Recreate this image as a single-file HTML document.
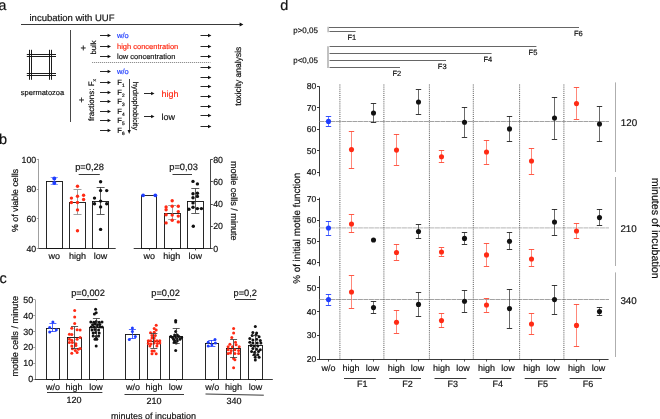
<!DOCTYPE html>
<html><head><meta charset="utf-8"><style>
html,body{margin:0;padding:0;background:#fff;}
svg{display:block;will-change:transform;}
text{font-family:"Liberation Sans", sans-serif;text-rendering:geometricPrecision;stroke:currentColor;stroke-width:0.18px;}
</style></head><body>
<svg width="660" height="419" viewBox="0 0 660 419" font-family='"Liberation Sans", sans-serif'>
<rect width="660" height="419" fill="#fff"/>
<text x="-1.4" y="9.9" font-size="14.2" text-anchor="start" fill="#111" color="#111" stroke="#111" stroke-width="0.35">a</text>
<text x="29.5" y="20.7" font-size="9.5" text-anchor="start" fill="#111" color="#111" >incubation with UUF</text>
<line x1="21" y1="24.5" x2="241" y2="24.5" stroke="#222" stroke-width="0.9" />
<path d="M239.6,22.6 L243.4,24.5 L239.6,26.4 Z" fill="#111"/>
<line x1="29.5" y1="49.8" x2="29.5" y2="79.8" stroke="#111" stroke-width="0.95" />
<line x1="31.5" y1="49.8" x2="31.5" y2="79.8" stroke="#111" stroke-width="0.95" />
<line x1="49.5" y1="49.8" x2="49.5" y2="79.8" stroke="#111" stroke-width="0.95" />
<line x1="51.5" y1="49.8" x2="51.5" y2="79.8" stroke="#111" stroke-width="0.95" />
<line x1="26.8" y1="54.5" x2="56" y2="54.5" stroke="#111" stroke-width="0.95" />
<line x1="26.8" y1="56.5" x2="56" y2="56.5" stroke="#111" stroke-width="0.95" />
<line x1="26.8" y1="73.5" x2="56" y2="73.5" stroke="#111" stroke-width="0.95" />
<line x1="26.8" y1="75.5" x2="56" y2="75.5" stroke="#111" stroke-width="0.95" />
<text x="42.5" y="94.5" font-size="7.5" text-anchor="middle" fill="#111" color="#111" >spermatozoa</text>
<line x1="70.5" y1="30" x2="70.5" y2="122" stroke="#333" stroke-width="0.9" />
<text x="83.2" y="50.8" font-size="9.5" text-anchor="middle" fill="#111" color="#111" >+</text>
<text x="81.6" y="102.8" font-size="9.5" text-anchor="middle" fill="#111" color="#111" >+</text>
<text transform="translate(96.2,47.45) rotate(-90)" font-size="7.6" text-anchor="middle" fill="#111">bulk</text>
<text transform="translate(94.2,100) rotate(-90)" font-size="8" text-anchor="middle" fill="#111">fractions: F<tspan font-size="5" dy="1.5">x</tspan></text>
<line x1="100" y1="35.5" x2="108.5" y2="35.5" stroke="#111" stroke-width="0.9" />
<path d="M107.6,33.8 L111,35.5 L107.6,37.2 Z" fill="#111"/>
<line x1="100" y1="46.5" x2="108.5" y2="46.5" stroke="#111" stroke-width="0.9" />
<path d="M107.6,44.8 L111,46.5 L107.6,48.2 Z" fill="#111"/>
<line x1="100" y1="56.5" x2="108.5" y2="56.5" stroke="#111" stroke-width="0.9" />
<path d="M107.6,54.8 L111,56.5 L107.6,58.2 Z" fill="#111"/>
<text x="117" y="38.3" font-size="7.5" text-anchor="start" fill="#1f3dff" color="#1f3dff" >w/o</text>
<text x="117" y="48.9" font-size="7.5" text-anchor="start" fill="#ff2a14" color="#ff2a14" >high concentration</text>
<text x="117" y="59.3" font-size="7.5" text-anchor="start" fill="#111" color="#111" >low concentration</text>
<line x1="92" y1="62.5" x2="210.5" y2="62.5" stroke="#444" stroke-width="0.6" stroke-dasharray="1.2,0.8"/>
<line x1="100" y1="71.5" x2="108.5" y2="71.5" stroke="#111" stroke-width="0.9" />
<path d="M107.6,69.8 L111,71.5 L107.6,73.2 Z" fill="#111"/>
<line x1="100" y1="82.5" x2="108.5" y2="82.5" stroke="#111" stroke-width="0.9" />
<path d="M107.6,80.8 L111,82.5 L107.6,84.2 Z" fill="#111"/>
<line x1="100" y1="92.5" x2="108.5" y2="92.5" stroke="#111" stroke-width="0.9" />
<path d="M107.6,90.8 L111,92.5 L107.6,94.2 Z" fill="#111"/>
<line x1="100" y1="101.5" x2="108.5" y2="101.5" stroke="#111" stroke-width="0.9" />
<path d="M107.6,99.8 L111,101.5 L107.6,103.2 Z" fill="#111"/>
<line x1="100" y1="111.5" x2="108.5" y2="111.5" stroke="#111" stroke-width="0.9" />
<path d="M107.6,109.8 L111,111.5 L107.6,113.2 Z" fill="#111"/>
<line x1="100" y1="120.5" x2="108.5" y2="120.5" stroke="#111" stroke-width="0.9" />
<path d="M107.6,118.8 L111,120.5 L107.6,122.2 Z" fill="#111"/>
<line x1="100" y1="130.5" x2="108.5" y2="130.5" stroke="#111" stroke-width="0.9" />
<path d="M107.6,128.8 L111,130.5 L107.6,132.2 Z" fill="#111"/>
<text x="117" y="73.7" font-size="7.5" text-anchor="start" fill="#1f3dff" color="#1f3dff" >w/o</text>
<text x="117.3" y="85.19999999999999" font-size="7.6" fill="#111">F<tspan font-size="4.8" dy="2">1</tspan></text>
<text x="117.3" y="94.6" font-size="7.6" fill="#111">F<tspan font-size="4.8" dy="2">2</tspan></text>
<text x="117.3" y="104.19999999999999" font-size="7.6" fill="#111">F<tspan font-size="4.8" dy="2">3</tspan></text>
<text x="117.3" y="113.6" font-size="7.6" fill="#111">F<tspan font-size="4.8" dy="2">4</tspan></text>
<text x="117.3" y="123.19999999999999" font-size="7.6" fill="#111">F<tspan font-size="4.8" dy="2">5</tspan></text>
<text x="117.3" y="132.9" font-size="7.6" fill="#111">F<tspan font-size="4.8" dy="2">6</tspan></text>
<line x1="129.5" y1="79" x2="129.5" y2="131" stroke="#111" stroke-width="0.8" />
<path d="M127.6,130 L129.2,134 L130.8,130 Z" fill="#111"/>
<text transform="translate(133.2,106) rotate(90)" font-size="7.5" text-anchor="middle" fill="#111">hydrophobicity</text>
<line x1="144" y1="93.5" x2="152.0" y2="93.5" stroke="#111" stroke-width="0.9" />
<path d="M151.1,91.8 L154.5,93.5 L151.1,95.2 Z" fill="#111"/>
<line x1="144" y1="116.5" x2="152.0" y2="116.5" stroke="#111" stroke-width="0.9" />
<path d="M151.1,114.8 L154.5,116.5 L151.1,118.2 Z" fill="#111"/>
<text x="161.5" y="96.5" font-size="9" text-anchor="start" fill="#ff2a14" color="#ff2a14" >high</text>
<text x="161.5" y="119.5" font-size="9" text-anchor="start" fill="#111" color="#111" >low</text>
<line x1="200.5" y1="35.5" x2="208.9" y2="35.5" stroke="#111" stroke-width="0.9" />
<path d="M208.0,33.8 L211.4,35.5 L208.0,37.2 Z" fill="#111"/>
<line x1="200.5" y1="46.5" x2="208.9" y2="46.5" stroke="#111" stroke-width="0.9" />
<path d="M208.0,44.8 L211.4,46.5 L208.0,48.2 Z" fill="#111"/>
<line x1="200.5" y1="56.5" x2="208.9" y2="56.5" stroke="#111" stroke-width="0.9" />
<path d="M208.0,54.8 L211.4,56.5 L208.0,58.2 Z" fill="#111"/>
<line x1="200.5" y1="67.5" x2="208.9" y2="67.5" stroke="#111" stroke-width="0.9" />
<path d="M208.0,65.8 L211.4,67.5 L208.0,69.2 Z" fill="#111"/>
<line x1="200.5" y1="77.5" x2="208.9" y2="77.5" stroke="#111" stroke-width="0.9" />
<path d="M208.0,75.8 L211.4,77.5 L208.0,79.2 Z" fill="#111"/>
<line x1="200.5" y1="86.5" x2="208.9" y2="86.5" stroke="#111" stroke-width="0.9" />
<path d="M208.0,84.8 L211.4,86.5 L208.0,88.2 Z" fill="#111"/>
<line x1="200.5" y1="96.5" x2="208.9" y2="96.5" stroke="#111" stroke-width="0.9" />
<path d="M208.0,94.8 L211.4,96.5 L208.0,98.2 Z" fill="#111"/>
<line x1="200.5" y1="106.5" x2="208.9" y2="106.5" stroke="#111" stroke-width="0.9" />
<path d="M208.0,104.8 L211.4,106.5 L208.0,108.2 Z" fill="#111"/>
<line x1="200.5" y1="115.5" x2="208.9" y2="115.5" stroke="#111" stroke-width="0.9" />
<path d="M208.0,113.8 L211.4,115.5 L208.0,117.2 Z" fill="#111"/>
<line x1="200.5" y1="126.5" x2="208.9" y2="126.5" stroke="#111" stroke-width="0.9" />
<path d="M208.0,124.8 L211.4,126.5 L208.0,128.2 Z" fill="#111"/>
<text transform="translate(241.3,76.2) rotate(-90)" font-size="8.5" text-anchor="middle" fill="#111">toxicity analysis</text>
<text x="-0.9" y="143.5" font-size="14.5" text-anchor="start" fill="#111" color="#111" stroke="#111" stroke-width="0.35">b</text>
<line x1="38.5" y1="158.9" x2="38.5" y2="248.9" stroke="#888" stroke-width="0.8" />
<line x1="38.3" y1="248.5" x2="115.7" y2="248.5" stroke="#222" stroke-width="0.9" />
<line x1="36.8" y1="248.5" x2="38.7" y2="248.5" stroke="#888" stroke-width="0.8" />
<text x="36.2" y="251.5" font-size="8.8" text-anchor="end" fill="#111" color="#111" >40</text>
<line x1="36.8" y1="218.5" x2="38.7" y2="218.5" stroke="#888" stroke-width="0.8" />
<text x="36.2" y="221.83333333333334" font-size="8.8" text-anchor="end" fill="#111" color="#111" >60</text>
<line x1="36.8" y1="189.5" x2="38.7" y2="189.5" stroke="#888" stroke-width="0.8" />
<text x="36.2" y="192.16666666666666" font-size="8.8" text-anchor="end" fill="#111" color="#111" >80</text>
<line x1="36.8" y1="159.5" x2="38.7" y2="159.5" stroke="#888" stroke-width="0.8" />
<text x="36.2" y="162.5" font-size="8.8" text-anchor="end" fill="#111" color="#111" >100</text>
<text transform="translate(18.4,200.5) rotate(-90)" font-size="8.8" text-anchor="middle" fill="#111">% of viable cells</text>
<rect x="46.5" y="181.5" width="16.0" height="67.0" fill="none" stroke="#111" stroke-width="0.9"/>
<rect x="69.5" y="202.5" width="16.0" height="46.0" fill="none" stroke="#111" stroke-width="0.9"/>
<rect x="92.5" y="201.5" width="16.0" height="47.0" fill="none" stroke="#111" stroke-width="0.9"/>
<line x1="54.5" y1="177.6" x2="54.5" y2="184.2" stroke="#6a84ff" stroke-width="0.8" />
<line x1="50.699999999999996" y1="177.5" x2="57.9" y2="177.5" stroke="#6a84ff" stroke-width="0.8" />
<line x1="50.699999999999996" y1="184.5" x2="57.9" y2="184.5" stroke="#6a84ff" stroke-width="0.8" />
<circle cx="54.3" cy="178.6" r="2.0" fill="#1f3dff"/>
<circle cx="54.3" cy="183.1" r="2.0" fill="#1f3dff"/>
<line x1="77.5" y1="189.8" x2="77.5" y2="214.4" stroke="#888" stroke-width="0.8" />
<line x1="73.5" y1="189.5" x2="81.5" y2="189.5" stroke="#888" stroke-width="0.8" />
<line x1="73.5" y1="214.5" x2="81.5" y2="214.5" stroke="#888" stroke-width="0.8" />
<circle cx="77.5" cy="186.2" r="1.7" fill="#ff2a14"/>
<circle cx="71.4" cy="198.1" r="1.7" fill="#ff2a14"/>
<circle cx="77.5" cy="196.3" r="1.7" fill="#ff2a14"/>
<circle cx="83.6" cy="195.3" r="1.7" fill="#ff2a14"/>
<circle cx="83.6" cy="199.5" r="1.7" fill="#ff2a14"/>
<circle cx="71.4" cy="202.5" r="1.7" fill="#ff2a14"/>
<circle cx="77.5" cy="202.5" r="1.7" fill="#ff2a14"/>
<circle cx="77.5" cy="209.9" r="1.7" fill="#ff2a14"/>
<circle cx="77.5" cy="230.7" r="1.7" fill="#ff2a14"/>
<line x1="100.5" y1="187.2" x2="100.5" y2="214" stroke="#333" stroke-width="0.8" />
<line x1="96.6" y1="187.5" x2="104.6" y2="187.5" stroke="#333" stroke-width="0.8" />
<line x1="96.6" y1="214.5" x2="104.6" y2="214.5" stroke="#333" stroke-width="0.8" />
<circle cx="100.6" cy="181.7" r="1.7" fill="#111"/>
<circle cx="100.6" cy="190.6" r="1.7" fill="#111"/>
<circle cx="106.7" cy="190.6" r="1.7" fill="#111"/>
<circle cx="94.5" cy="198.1" r="1.7" fill="#111"/>
<circle cx="100.6" cy="201.1" r="1.7" fill="#111"/>
<circle cx="94.5" cy="203.8" r="1.7" fill="#111"/>
<circle cx="106.7" cy="203.8" r="1.7" fill="#111"/>
<circle cx="100.6" cy="206.9" r="1.7" fill="#111"/>
<circle cx="100.6" cy="229.4" r="1.7" fill="#111"/>
<text x="54.3" y="259.4" font-size="9" text-anchor="middle" fill="#111" color="#111" >wo</text>
<text x="77.5" y="259.4" font-size="9" text-anchor="middle" fill="#111" color="#111" >high</text>
<text x="100.6" y="259.4" font-size="9" text-anchor="middle" fill="#111" color="#111" >low</text>
<text x="89.5" y="170" font-size="9.3" text-anchor="middle" fill="#111" color="#111" >p=0,28</text>
<line x1="78.7" y1="174.5" x2="99.8" y2="174.5" stroke="#222" stroke-width="0.9" />
<line x1="210.5" y1="159.2" x2="210.5" y2="248.9" stroke="#333" stroke-width="0.9" />
<line x1="133.7" y1="248.5" x2="211.2" y2="248.5" stroke="#222" stroke-width="0.9" />
<line x1="210.8" y1="248.5" x2="212.8" y2="248.5" stroke="#333" stroke-width="0.9" />
<text x="213.2" y="251.5" font-size="8.8" text-anchor="start" fill="#111" color="#111" >0</text>
<line x1="210.8" y1="226.5" x2="212.8" y2="226.5" stroke="#333" stroke-width="0.9" />
<text x="213.2" y="229.29999999999998" font-size="8.8" text-anchor="start" fill="#111" color="#111" >20</text>
<line x1="210.8" y1="204.5" x2="212.8" y2="204.5" stroke="#333" stroke-width="0.9" />
<text x="213.2" y="207.1" font-size="8.8" text-anchor="start" fill="#111" color="#111" >40</text>
<line x1="210.8" y1="181.5" x2="212.8" y2="181.5" stroke="#333" stroke-width="0.9" />
<text x="213.2" y="184.9" font-size="8.8" text-anchor="start" fill="#111" color="#111" >60</text>
<line x1="210.8" y1="159.5" x2="212.8" y2="159.5" stroke="#333" stroke-width="0.9" />
<text x="213.2" y="162.7" font-size="8.8" text-anchor="start" fill="#111" color="#111" >80</text>
<text transform="translate(230.8,200.8) rotate(90)" font-size="9.05" text-anchor="middle" fill="#111">motile cells / minute</text>
<rect x="141.5" y="195.5" width="15.0" height="53.0" fill="none" stroke="#111" stroke-width="0.9"/>
<circle cx="143.1" cy="195.3" r="1.9" fill="#1f3dff"/>
<circle cx="155.3" cy="195.3" r="1.9" fill="#1f3dff"/>
<rect x="164.5" y="213.5" width="16.0" height="35.0" fill="none" stroke="#111" stroke-width="0.9"/>
<line x1="172.5" y1="205.5" x2="172.5" y2="219.8" stroke="#888" stroke-width="0.8" />
<line x1="168.2" y1="205.5" x2="176.2" y2="205.5" stroke="#888" stroke-width="0.8" />
<line x1="168.2" y1="219.5" x2="176.2" y2="219.5" stroke="#888" stroke-width="0.8" />
<circle cx="172.2" cy="200.7" r="1.7" fill="#ff2a14"/>
<circle cx="166.1" cy="207" r="1.7" fill="#ff2a14"/>
<circle cx="172.2" cy="206.2" r="1.7" fill="#ff2a14"/>
<circle cx="178.3" cy="206.2" r="1.7" fill="#ff2a14"/>
<circle cx="166.1" cy="209.7" r="1.7" fill="#ff2a14"/>
<circle cx="178.3" cy="211.6" r="1.7" fill="#ff2a14"/>
<circle cx="166.1" cy="214.7" r="1.7" fill="#ff2a14"/>
<circle cx="172.2" cy="215.1" r="1.7" fill="#ff2a14"/>
<circle cx="178.3" cy="216.1" r="1.7" fill="#ff2a14"/>
<circle cx="172.2" cy="220.2" r="1.7" fill="#ff2a14"/>
<circle cx="166.1" cy="222.9" r="1.7" fill="#ff2a14"/>
<circle cx="178.3" cy="221.9" r="1.7" fill="#ff2a14"/>
<rect x="187.5" y="201.5" width="16.0" height="47.0" fill="none" stroke="#111" stroke-width="0.9"/>
<line x1="195.5" y1="188.5" x2="195.5" y2="213" stroke="#333" stroke-width="0.8" />
<line x1="191.3" y1="188.5" x2="199.3" y2="188.5" stroke="#333" stroke-width="0.8" />
<line x1="191.3" y1="213.5" x2="199.3" y2="213.5" stroke="#333" stroke-width="0.8" />
<circle cx="193" cy="181.4" r="1.7" fill="#111"/>
<circle cx="197.4" cy="183.9" r="1.7" fill="#111"/>
<circle cx="193" cy="193.7" r="1.7" fill="#111"/>
<circle cx="197.4" cy="193.3" r="1.7" fill="#111"/>
<circle cx="197.4" cy="196.4" r="1.7" fill="#111"/>
<circle cx="193" cy="197.7" r="1.7" fill="#111"/>
<circle cx="193" cy="202.9" r="1.7" fill="#111"/>
<circle cx="188.9" cy="209.3" r="1.7" fill="#111"/>
<circle cx="193" cy="207.3" r="1.7" fill="#111"/>
<circle cx="197.4" cy="208.6" r="1.7" fill="#111"/>
<circle cx="201.4" cy="208.6" r="1.7" fill="#111"/>
<circle cx="193.3" cy="226.3" r="1.7" fill="#111"/>
<line x1="149.5" y1="248.4" x2="149.5" y2="250.4" stroke="#222" stroke-width="0.8" />
<line x1="171.5" y1="248.4" x2="171.5" y2="250.4" stroke="#222" stroke-width="0.8" />
<line x1="195.5" y1="248.4" x2="195.5" y2="250.4" stroke="#222" stroke-width="0.8" />
<text x="149.2" y="259.4" font-size="9" text-anchor="middle" fill="#111" color="#111" >wo</text>
<text x="171.8" y="259.4" font-size="9" text-anchor="middle" fill="#111" color="#111" >high</text>
<text x="195.3" y="259.4" font-size="9" text-anchor="middle" fill="#111" color="#111" >low</text>
<text x="183.6" y="170" font-size="9.3" text-anchor="middle" fill="#111" color="#111" >p=0,03</text>
<line x1="172.5" y1="174.5" x2="192" y2="174.5" stroke="#222" stroke-width="0.9" />
<text x="-0.6" y="282.7" font-size="14.5" text-anchor="start" fill="#111" color="#111" stroke="#111" stroke-width="0.35">c</text>
<line x1="35.5" y1="299.5" x2="35.5" y2="379" stroke="#888" stroke-width="0.8" />
<line x1="34.6" y1="379.5" x2="272.8" y2="379.5" stroke="#222" stroke-width="0.9" />
<line x1="33.2" y1="379.5" x2="35" y2="379.5" stroke="#888" stroke-width="0.8" />
<text x="33.1" y="382.20000000000005" font-size="8.9" text-anchor="end" fill="#111" color="#111" >0</text>
<line x1="33.2" y1="363.5" x2="35" y2="363.5" stroke="#888" stroke-width="0.8" />
<text x="33.1" y="366.34000000000003" font-size="8.9" text-anchor="end" fill="#111" color="#111" >10</text>
<line x1="33.2" y1="347.5" x2="35" y2="347.5" stroke="#888" stroke-width="0.8" />
<text x="33.1" y="350.48" font-size="8.9" text-anchor="end" fill="#111" color="#111" >20</text>
<line x1="33.2" y1="331.5" x2="35" y2="331.5" stroke="#888" stroke-width="0.8" />
<text x="33.1" y="334.62" font-size="8.9" text-anchor="end" fill="#111" color="#111" >30</text>
<line x1="33.2" y1="315.5" x2="35" y2="315.5" stroke="#888" stroke-width="0.8" />
<text x="33.1" y="318.76000000000005" font-size="8.9" text-anchor="end" fill="#111" color="#111" >40</text>
<line x1="33.2" y1="299.5" x2="35" y2="299.5" stroke="#888" stroke-width="0.8" />
<text x="33.1" y="302.90000000000003" font-size="8.9" text-anchor="end" fill="#111" color="#111" >50</text>
<text transform="translate(17.6,336.2) rotate(-90)" font-size="9.2" text-anchor="middle" fill="#111">motile cells / minute</text>
<rect x="46.5" y="328.5" width="13.0" height="51.0" fill="none" stroke="#111" stroke-width="0.9"/>
<line x1="52.5" y1="379.1" x2="52.5" y2="380.70000000000005" stroke="#222" stroke-width="0.9" />
<circle cx="52.9" cy="322" r="1.5" fill="#1f3dff"/>
<circle cx="49.7" cy="327.4" r="1.5" fill="#1f3dff"/>
<circle cx="56.3" cy="329.8" r="1.5" fill="#1f3dff"/>
<circle cx="49.7" cy="332" r="1.5" fill="#1f3dff"/>
<line x1="52.5" y1="323.3" x2="52.5" y2="331.7" stroke="#1f3dff" stroke-width="0.8" />
<line x1="49.4" y1="323.5" x2="56.4" y2="323.5" stroke="#1f3dff" stroke-width="0.8" />
<line x1="49.4" y1="331.5" x2="56.4" y2="331.5" stroke="#1f3dff" stroke-width="0.8" />
<rect x="67.5" y="337.5" width="14.0" height="42.0" fill="none" stroke="#111" stroke-width="0.9"/>
<line x1="74.5" y1="379.1" x2="74.5" y2="380.70000000000005" stroke="#222" stroke-width="0.9" />
<circle cx="74.7" cy="310.6" r="1.5" fill="#ff2a14"/>
<circle cx="74.7" cy="317" r="1.5" fill="#ff2a14"/>
<circle cx="74.7" cy="323.5" r="1.5" fill="#ff2a14"/>
<circle cx="71.8" cy="328.3" r="1.5" fill="#ff2a14"/>
<circle cx="77.1" cy="329.7" r="1.5" fill="#ff2a14"/>
<circle cx="80.1" cy="330.1" r="1.5" fill="#ff2a14"/>
<circle cx="69.4" cy="334.3" r="1.5" fill="#ff2a14"/>
<circle cx="71.8" cy="334.5" r="1.5" fill="#ff2a14"/>
<circle cx="69.4" cy="339.3" r="1.5" fill="#ff2a14"/>
<circle cx="71.8" cy="340.2" r="1.5" fill="#ff2a14"/>
<circle cx="77.1" cy="339.3" r="1.5" fill="#ff2a14"/>
<circle cx="80.1" cy="337.6" r="1.5" fill="#ff2a14"/>
<circle cx="69.4" cy="342.6" r="1.5" fill="#ff2a14"/>
<circle cx="72.4" cy="342.6" r="1.5" fill="#ff2a14"/>
<circle cx="75.9" cy="343.8" r="1.5" fill="#ff2a14"/>
<circle cx="71.8" cy="346" r="1.5" fill="#ff2a14"/>
<circle cx="75.9" cy="345.6" r="1.5" fill="#ff2a14"/>
<circle cx="72.4" cy="348.8" r="1.5" fill="#ff2a14"/>
<circle cx="75.3" cy="350.4" r="1.5" fill="#ff2a14"/>
<circle cx="78.3" cy="349.2" r="1.5" fill="#ff2a14"/>
<circle cx="80.1" cy="348.6" r="1.5" fill="#ff2a14"/>
<circle cx="71.8" cy="353.3" r="1.5" fill="#ff2a14"/>
<circle cx="77.1" cy="352.4" r="1.5" fill="#ff2a14"/>
<line x1="74.5" y1="326.5" x2="74.5" y2="348.4" stroke="#333" stroke-width="0.8" />
<line x1="71.1" y1="326.5" x2="78.1" y2="326.5" stroke="#333" stroke-width="0.8" />
<line x1="71.1" y1="348.5" x2="78.1" y2="348.5" stroke="#333" stroke-width="0.8" />
<rect x="89.5" y="327.5" width="14.0" height="52.0" fill="none" stroke="#111" stroke-width="0.9"/>
<line x1="96.5" y1="379.1" x2="96.5" y2="380.70000000000005" stroke="#222" stroke-width="0.9" />
<circle cx="95.6" cy="309.2" r="1.5" fill="#111"/>
<circle cx="96.2" cy="312.8" r="1.5" fill="#111"/>
<circle cx="94.4" cy="314" r="1.5" fill="#111"/>
<circle cx="90.8" cy="322.1" r="1.5" fill="#111"/>
<circle cx="93.8" cy="322.3" r="1.5" fill="#111"/>
<circle cx="96.2" cy="321.4" r="1.5" fill="#111"/>
<circle cx="99.2" cy="322.3" r="1.5" fill="#111"/>
<circle cx="102" cy="322.1" r="1.5" fill="#111"/>
<circle cx="92.6" cy="324.7" r="1.5" fill="#111"/>
<circle cx="95" cy="324.1" r="1.5" fill="#111"/>
<circle cx="97.4" cy="324.7" r="1.5" fill="#111"/>
<circle cx="99.8" cy="324.5" r="1.5" fill="#111"/>
<circle cx="91.2" cy="327.1" r="1.5" fill="#111"/>
<circle cx="93.8" cy="326.9" r="1.5" fill="#111"/>
<circle cx="96.8" cy="326.5" r="1.5" fill="#111"/>
<circle cx="99.8" cy="327.1" r="1.5" fill="#111"/>
<circle cx="102.2" cy="327.1" r="1.5" fill="#111"/>
<circle cx="92" cy="330" r="1.5" fill="#111"/>
<circle cx="95" cy="329.5" r="1.5" fill="#111"/>
<circle cx="98.6" cy="330" r="1.5" fill="#111"/>
<circle cx="93.2" cy="333" r="1.5" fill="#111"/>
<circle cx="95.6" cy="332.5" r="1.5" fill="#111"/>
<circle cx="99.2" cy="333" r="1.5" fill="#111"/>
<circle cx="93.2" cy="336" r="1.5" fill="#111"/>
<circle cx="96.2" cy="336.6" r="1.5" fill="#111"/>
<circle cx="98.6" cy="336" r="1.5" fill="#111"/>
<circle cx="95" cy="339.3" r="1.5" fill="#111"/>
<circle cx="96.8" cy="339.3" r="1.5" fill="#111"/>
<circle cx="96.2" cy="346" r="1.5" fill="#111"/>
<line x1="96.5" y1="318.6" x2="96.5" y2="336" stroke="#333" stroke-width="0.8" />
<line x1="92.9" y1="318.5" x2="99.9" y2="318.5" stroke="#333" stroke-width="0.8" />
<line x1="92.9" y1="336.5" x2="99.9" y2="336.5" stroke="#333" stroke-width="0.8" />
<rect x="125.5" y="334.5" width="14.0" height="45.0" fill="none" stroke="#111" stroke-width="0.9"/>
<line x1="132.5" y1="379.1" x2="132.5" y2="380.70000000000005" stroke="#222" stroke-width="0.9" />
<circle cx="132.4" cy="328.1" r="1.5" fill="#1f3dff"/>
<circle cx="132.4" cy="331.6" r="1.5" fill="#1f3dff"/>
<circle cx="135.4" cy="336.5" r="1.5" fill="#1f3dff"/>
<circle cx="129.3" cy="339.5" r="1.5" fill="#1f3dff"/>
<line x1="132.5" y1="329" x2="132.5" y2="338.6" stroke="#1f3dff" stroke-width="0.8" />
<line x1="128.9" y1="329.5" x2="135.9" y2="329.5" stroke="#1f3dff" stroke-width="0.8" />
<line x1="128.9" y1="338.5" x2="135.9" y2="338.5" stroke="#1f3dff" stroke-width="0.8" />
<rect x="147.5" y="341.5" width="13.0" height="38.0" fill="none" stroke="#111" stroke-width="0.9"/>
<line x1="153.5" y1="379.1" x2="153.5" y2="380.70000000000005" stroke="#222" stroke-width="0.9" />
<circle cx="156.2" cy="325.2" r="1.5" fill="#ff2a14"/>
<circle cx="154.2" cy="328.4" r="1.5" fill="#ff2a14"/>
<circle cx="156.2" cy="330" r="1.5" fill="#ff2a14"/>
<circle cx="150.5" cy="332.7" r="1.5" fill="#ff2a14"/>
<circle cx="154.2" cy="332.2" r="1.5" fill="#ff2a14"/>
<circle cx="152" cy="335.4" r="1.5" fill="#ff2a14"/>
<circle cx="155.3" cy="335.4" r="1.5" fill="#ff2a14"/>
<circle cx="152" cy="338" r="1.5" fill="#ff2a14"/>
<circle cx="154.2" cy="338" r="1.5" fill="#ff2a14"/>
<circle cx="148.3" cy="340.8" r="1.5" fill="#ff2a14"/>
<circle cx="150.5" cy="340.8" r="1.5" fill="#ff2a14"/>
<circle cx="154.2" cy="340.8" r="1.5" fill="#ff2a14"/>
<circle cx="156.9" cy="340.8" r="1.5" fill="#ff2a14"/>
<circle cx="159.8" cy="340.8" r="1.5" fill="#ff2a14"/>
<circle cx="148.3" cy="343.5" r="1.5" fill="#ff2a14"/>
<circle cx="151" cy="344" r="1.5" fill="#ff2a14"/>
<circle cx="154.2" cy="343.1" r="1.5" fill="#ff2a14"/>
<circle cx="157.4" cy="343.5" r="1.5" fill="#ff2a14"/>
<circle cx="159.8" cy="343.1" r="1.5" fill="#ff2a14"/>
<circle cx="149.9" cy="346.1" r="1.5" fill="#ff2a14"/>
<circle cx="156.9" cy="346.1" r="1.5" fill="#ff2a14"/>
<circle cx="152" cy="351" r="1.5" fill="#ff2a14"/>
<circle cx="154.2" cy="351" r="1.5" fill="#ff2a14"/>
<circle cx="152" cy="353.7" r="1.5" fill="#ff2a14"/>
<circle cx="156.2" cy="353.7" r="1.5" fill="#ff2a14"/>
<line x1="153.5" y1="333.5" x2="153.5" y2="348.1" stroke="#333" stroke-width="0.8" />
<line x1="150.4" y1="333.5" x2="157.4" y2="333.5" stroke="#333" stroke-width="0.8" />
<line x1="150.4" y1="348.5" x2="157.4" y2="348.5" stroke="#333" stroke-width="0.8" />
<rect x="169.5" y="336.5" width="13.0" height="43.0" fill="none" stroke="#111" stroke-width="0.9"/>
<line x1="176.5" y1="379.1" x2="176.5" y2="380.70000000000005" stroke="#222" stroke-width="0.9" />
<circle cx="175.7" cy="320.4" r="1.5" fill="#111"/>
<circle cx="175.7" cy="322" r="1.5" fill="#111"/>
<circle cx="175.7" cy="331.6" r="1.5" fill="#111"/>
<circle cx="174.6" cy="334.9" r="1.5" fill="#111"/>
<circle cx="177.3" cy="334.9" r="1.5" fill="#111"/>
<circle cx="170.9" cy="336.5" r="1.5" fill="#111"/>
<circle cx="172.5" cy="337.6" r="1.5" fill="#111"/>
<circle cx="175.7" cy="337" r="1.5" fill="#111"/>
<circle cx="178.9" cy="336.5" r="1.5" fill="#111"/>
<circle cx="181.6" cy="337.6" r="1.5" fill="#111"/>
<circle cx="173.6" cy="339.2" r="1.5" fill="#111"/>
<circle cx="176.8" cy="338.6" r="1.5" fill="#111"/>
<circle cx="180" cy="339.2" r="1.5" fill="#111"/>
<circle cx="174.6" cy="340.8" r="1.5" fill="#111"/>
<circle cx="177.3" cy="340.8" r="1.5" fill="#111"/>
<circle cx="174.1" cy="342.4" r="1.5" fill="#111"/>
<circle cx="176.2" cy="343" r="1.5" fill="#111"/>
<circle cx="175.7" cy="350.4" r="1.5" fill="#111"/>
<line x1="176.5" y1="328.4" x2="176.5" y2="343.5" stroke="#333" stroke-width="0.8" />
<line x1="172.7" y1="328.5" x2="179.7" y2="328.5" stroke="#333" stroke-width="0.8" />
<line x1="172.7" y1="343.5" x2="179.7" y2="343.5" stroke="#333" stroke-width="0.8" />
<rect x="205.5" y="343.5" width="13.0" height="36.0" fill="none" stroke="#111" stroke-width="0.9"/>
<line x1="211.5" y1="379.1" x2="211.5" y2="380.70000000000005" stroke="#222" stroke-width="0.9" />
<circle cx="215" cy="339.6" r="1.5" fill="#1f3dff"/>
<circle cx="208.2" cy="342.3" r="1.5" fill="#1f3dff"/>
<circle cx="215.4" cy="343" r="1.5" fill="#1f3dff"/>
<circle cx="208.2" cy="346" r="1.5" fill="#1f3dff"/>
<circle cx="211.9" cy="344.8" r="1.5" fill="#1f3dff"/>
<line x1="211.5" y1="340" x2="211.5" y2="346.5" stroke="#1f3dff" stroke-width="0.8" />
<line x1="208.4" y1="340.5" x2="215.4" y2="340.5" stroke="#1f3dff" stroke-width="0.8" />
<line x1="208.4" y1="346.5" x2="215.4" y2="346.5" stroke="#1f3dff" stroke-width="0.8" />
<rect x="226.5" y="348.5" width="14.0" height="31.0" fill="none" stroke="#111" stroke-width="0.9"/>
<line x1="233.5" y1="379.1" x2="233.5" y2="380.70000000000005" stroke="#222" stroke-width="0.9" />
<circle cx="233.6" cy="328.4" r="1.5" fill="#ff2a14"/>
<circle cx="233.6" cy="333" r="1.5" fill="#ff2a14"/>
<circle cx="231.8" cy="337.4" r="1.5" fill="#ff2a14"/>
<circle cx="235.5" cy="342.3" r="1.5" fill="#ff2a14"/>
<circle cx="229.9" cy="344.2" r="1.5" fill="#ff2a14"/>
<circle cx="236.1" cy="344.8" r="1.5" fill="#ff2a14"/>
<circle cx="228.1" cy="346.7" r="1.5" fill="#ff2a14"/>
<circle cx="232.4" cy="346.7" r="1.5" fill="#ff2a14"/>
<circle cx="239.2" cy="346.7" r="1.5" fill="#ff2a14"/>
<circle cx="228.1" cy="349.8" r="1.5" fill="#ff2a14"/>
<circle cx="231.2" cy="350.4" r="1.5" fill="#ff2a14"/>
<circle cx="234.9" cy="349.8" r="1.5" fill="#ff2a14"/>
<circle cx="238.6" cy="350.4" r="1.5" fill="#ff2a14"/>
<circle cx="228.1" cy="353.5" r="1.5" fill="#ff2a14"/>
<circle cx="230.5" cy="352.9" r="1.5" fill="#ff2a14"/>
<circle cx="234.9" cy="353.5" r="1.5" fill="#ff2a14"/>
<circle cx="238.6" cy="353.5" r="1.5" fill="#ff2a14"/>
<circle cx="233.6" cy="358.5" r="1.5" fill="#ff2a14"/>
<circle cx="234.9" cy="359.7" r="1.5" fill="#ff2a14"/>
<circle cx="233.6" cy="367.8" r="1.5" fill="#ff2a14"/>
<line x1="233.5" y1="339.5" x2="233.5" y2="357" stroke="#333" stroke-width="0.8" />
<line x1="230.1" y1="339.5" x2="237.1" y2="339.5" stroke="#333" stroke-width="0.8" />
<line x1="230.1" y1="357.5" x2="237.1" y2="357.5" stroke="#333" stroke-width="0.8" />
<rect x="248.5" y="345.5" width="14.0" height="34.0" fill="none" stroke="#111" stroke-width="0.9"/>
<line x1="255.5" y1="379.1" x2="255.5" y2="380.70000000000005" stroke="#222" stroke-width="0.9" />
<circle cx="255.3" cy="326.5" r="1.5" fill="#111"/>
<circle cx="252.9" cy="332.4" r="1.5" fill="#111"/>
<circle cx="256.6" cy="333" r="1.5" fill="#111"/>
<circle cx="252.2" cy="335.5" r="1.5" fill="#111"/>
<circle cx="256" cy="334.9" r="1.5" fill="#111"/>
<circle cx="259.1" cy="336.7" r="1.5" fill="#111"/>
<circle cx="249.8" cy="338.6" r="1.5" fill="#111"/>
<circle cx="252.9" cy="339.9" r="1.5" fill="#111"/>
<circle cx="256.6" cy="339.2" r="1.5" fill="#111"/>
<circle cx="260.3" cy="340.5" r="1.5" fill="#111"/>
<circle cx="249.8" cy="342.3" r="1.5" fill="#111"/>
<circle cx="252.9" cy="343" r="1.5" fill="#111"/>
<circle cx="257.2" cy="343" r="1.5" fill="#111"/>
<circle cx="260.9" cy="343" r="1.5" fill="#111"/>
<circle cx="251" cy="345.4" r="1.5" fill="#111"/>
<circle cx="254.1" cy="346" r="1.5" fill="#111"/>
<circle cx="257.8" cy="346" r="1.5" fill="#111"/>
<circle cx="252.9" cy="348.5" r="1.5" fill="#111"/>
<circle cx="256.6" cy="349.2" r="1.5" fill="#111"/>
<circle cx="260.3" cy="349.8" r="1.5" fill="#111"/>
<circle cx="251.6" cy="351.6" r="1.5" fill="#111"/>
<circle cx="254.7" cy="352.3" r="1.5" fill="#111"/>
<circle cx="258.5" cy="351.6" r="1.5" fill="#111"/>
<circle cx="254.1" cy="354.7" r="1.5" fill="#111"/>
<circle cx="257.8" cy="354.7" r="1.5" fill="#111"/>
<circle cx="255.3" cy="357.2" r="1.5" fill="#111"/>
<circle cx="259.1" cy="357.2" r="1.5" fill="#111"/>
<circle cx="255.3" cy="360" r="1.5" fill="#111"/>
<line x1="255.5" y1="335.5" x2="255.5" y2="355.5" stroke="#333" stroke-width="0.8" />
<line x1="252.1" y1="335.5" x2="259.1" y2="335.5" stroke="#333" stroke-width="0.8" />
<line x1="252.1" y1="355.5" x2="259.1" y2="355.5" stroke="#333" stroke-width="0.8" />
<text x="53" y="389.6" font-size="9" text-anchor="middle" fill="#111" color="#111" >w/o</text>
<text x="74" y="389.6" font-size="9" text-anchor="middle" fill="#111" color="#111" >high</text>
<text x="96" y="389.6" font-size="9" text-anchor="middle" fill="#111" color="#111" >low</text>
<text x="133" y="389.6" font-size="9" text-anchor="middle" fill="#111" color="#111" >w/o</text>
<text x="154" y="389.6" font-size="9" text-anchor="middle" fill="#111" color="#111" >high</text>
<text x="175.5" y="389.6" font-size="9" text-anchor="middle" fill="#111" color="#111" >low</text>
<text x="212.3" y="389.6" font-size="9" text-anchor="middle" fill="#111" color="#111" >w/o</text>
<text x="233.6" y="389.6" font-size="9" text-anchor="middle" fill="#111" color="#111" >high</text>
<text x="255.5" y="389.6" font-size="9" text-anchor="middle" fill="#111" color="#111" >low</text>
<line x1="47" y1="392.5" x2="102.4" y2="392.5" stroke="#222" stroke-width="0.9" />
<text x="74" y="403" font-size="9" text-anchor="middle" fill="#111" color="#111" >120</text>
<line x1="124.5" y1="394.5" x2="184" y2="394.5" stroke="#222" stroke-width="0.9" />
<text x="154" y="404" font-size="9" text-anchor="middle" fill="#111" color="#111" >210</text>
<line x1="205.5" y1="394.0" x2="263.8" y2="395.2" stroke="#222" stroke-width="0.9" />
<text x="234" y="404" font-size="9" text-anchor="middle" fill="#111" color="#111" >340</text>
<text x="111" y="418.5" font-size="9" text-anchor="start" fill="#111" color="#111" >minutes of incubation</text>
<text x="88" y="295.6" font-size="9.25" text-anchor="middle" fill="#111" color="#111" >p=0,002</text>
<line x1="76" y1="299.5" x2="97.6" y2="299.5" stroke="#222" stroke-width="0.9" />
<text x="165.6" y="295.6" font-size="9.25" text-anchor="middle" fill="#111" color="#111" >p=0,02</text>
<line x1="154.4" y1="299.5" x2="175.6" y2="299.5" stroke="#222" stroke-width="0.9" />
<text x="245.2" y="295.6" font-size="9.25" text-anchor="middle" fill="#111" color="#111" >p=0,2</text>
<line x1="235" y1="299.5" x2="255.9" y2="299.5" stroke="#222" stroke-width="0.9" />
<text x="280.2" y="9.8" font-size="14.5" text-anchor="start" fill="#111" color="#111" stroke="#111" stroke-width="0.35">d</text>
<text x="293.2" y="32.6" font-size="8" text-anchor="start" fill="#111" color="#111" >p&gt;0,05</text>
<text x="293.2" y="62.6" font-size="8" text-anchor="start" fill="#111" color="#111" >p&lt;0,05</text>
<line x1="328.1" y1="26.8" x2="328.1" y2="32.2" stroke="#999" stroke-width="1.1" />
<line x1="329" y1="27.5" x2="579" y2="27.5" stroke="#555" stroke-width="0.9" />
<line x1="329.4" y1="31.5" x2="355.6" y2="31.5" stroke="#555" stroke-width="0.9" />
<text x="351.9" y="39.6" font-size="7.5" text-anchor="middle" fill="#111" color="#111" >F1</text>
<text x="578.4" y="35.6" font-size="7.5" text-anchor="middle" fill="#111" color="#111" >F6</text>
<line x1="328.0" y1="46.2" x2="328.0" y2="67.9" stroke="#999" stroke-width="1.2" />
<line x1="329.5" y1="46.5" x2="536.4" y2="46.5" stroke="#555" stroke-width="0.9" />
<text x="533.0" y="55.1" font-size="7.5" text-anchor="middle" fill="#111" color="#111" >F5</text>
<line x1="329.5" y1="53.5" x2="491.6" y2="53.5" stroke="#555" stroke-width="0.9" />
<text x="487.8" y="62.1" font-size="7.5" text-anchor="middle" fill="#111" color="#111" >F4</text>
<line x1="329.5" y1="60.5" x2="446" y2="60.5" stroke="#555" stroke-width="0.9" />
<text x="442.2" y="69.1" font-size="7.5" text-anchor="middle" fill="#111" color="#111" >F3</text>
<line x1="329.5" y1="67.5" x2="400" y2="67.5" stroke="#555" stroke-width="0.9" />
<text x="396.9" y="75.6" font-size="7.5" text-anchor="middle" fill="#111" color="#111" >F2</text>
<line x1="319.5" y1="86.4" x2="319.5" y2="176.4" stroke="#222" stroke-width="0.9" />
<line x1="317" y1="86.5" x2="319.4" y2="86.5" stroke="#222" stroke-width="0.9" />
<text x="316.2" y="89.4" font-size="8.6" text-anchor="end" fill="#111" color="#111" >80</text>
<line x1="317" y1="107.5" x2="319.4" y2="107.5" stroke="#222" stroke-width="0.9" />
<text x="316.2" y="110.9" font-size="8.6" text-anchor="end" fill="#111" color="#111" >70</text>
<line x1="317" y1="129.5" x2="319.4" y2="129.5" stroke="#222" stroke-width="0.9" />
<text x="316.2" y="132.4" font-size="8.6" text-anchor="end" fill="#111" color="#111" >60</text>
<line x1="317" y1="150.5" x2="319.4" y2="150.5" stroke="#222" stroke-width="0.9" />
<text x="316.2" y="153.9" font-size="8.6" text-anchor="end" fill="#111" color="#111" >50</text>
<line x1="317" y1="172.5" x2="319.4" y2="172.5" stroke="#222" stroke-width="0.9" />
<text x="316.2" y="175.4" font-size="8.6" text-anchor="end" fill="#111" color="#111" >40</text>
<line x1="319.4" y1="121.5" x2="609" y2="121.5" stroke="#8a8a8a" stroke-width="0.8" stroke-dasharray="5,0.5"/>
<line x1="615.5" y1="82.4" x2="615.5" y2="172" stroke="#999" stroke-width="0.8" />
<line x1="319.5" y1="197.6" x2="319.5" y2="266.4" stroke="#222" stroke-width="0.9" />
<line x1="317" y1="199.5" x2="319.4" y2="199.5" stroke="#222" stroke-width="0.9" />
<text x="316.2" y="202.2" font-size="8.6" text-anchor="end" fill="#111" color="#111" >70</text>
<line x1="317" y1="220.5" x2="319.4" y2="220.5" stroke="#222" stroke-width="0.9" />
<text x="316.2" y="223.26666666666665" font-size="8.6" text-anchor="end" fill="#111" color="#111" >60</text>
<line x1="317" y1="241.5" x2="319.4" y2="241.5" stroke="#222" stroke-width="0.9" />
<text x="316.2" y="244.33333333333331" font-size="8.6" text-anchor="end" fill="#111" color="#111" >50</text>
<line x1="317" y1="262.5" x2="319.4" y2="262.5" stroke="#222" stroke-width="0.9" />
<text x="316.2" y="265.4" font-size="8.6" text-anchor="end" fill="#111" color="#111" >40</text>
<line x1="319.4" y1="227.8" x2="609" y2="227.8" stroke="#c4c4c4" stroke-width="1.3" stroke-dasharray="5,0.5"/>
<line x1="615.5" y1="177" x2="615.5" y2="266" stroke="#999" stroke-width="0.8" />
<line x1="319.5" y1="276" x2="319.5" y2="359.4" stroke="#222" stroke-width="0.9" />
<line x1="317" y1="287.5" x2="319.4" y2="287.5" stroke="#222" stroke-width="0.9" />
<text x="316.2" y="290.6" font-size="8.6" text-anchor="end" fill="#111" color="#111" >50</text>
<line x1="317" y1="311.5" x2="319.4" y2="311.5" stroke="#222" stroke-width="0.9" />
<text x="316.2" y="314.53333333333336" font-size="8.6" text-anchor="end" fill="#111" color="#111" >40</text>
<line x1="317" y1="335.5" x2="319.4" y2="335.5" stroke="#222" stroke-width="0.9" />
<text x="316.2" y="338.46666666666664" font-size="8.6" text-anchor="end" fill="#111" color="#111" >30</text>
<line x1="317" y1="359.5" x2="319.4" y2="359.5" stroke="#222" stroke-width="0.9" />
<text x="316.2" y="362.4" font-size="8.6" text-anchor="end" fill="#111" color="#111" >20</text>
<line x1="319.4" y1="299.5" x2="609" y2="299.5" stroke="#8a8a8a" stroke-width="0.8" stroke-dasharray="5,0.5"/>
<line x1="615.5" y1="272.4" x2="615.5" y2="357" stroke="#999" stroke-width="0.8" />
<line x1="339.9" y1="84.5" x2="339.9" y2="359.4" stroke="#555" stroke-width="1.0" stroke-dasharray="1,1.1"/>
<line x1="383.9" y1="84.5" x2="383.9" y2="359.4" stroke="#555" stroke-width="1.0" stroke-dasharray="1,1.1"/>
<line x1="429.4" y1="84.5" x2="429.4" y2="359.4" stroke="#555" stroke-width="1.0" stroke-dasharray="1,1.1"/>
<line x1="473.3" y1="84.5" x2="473.3" y2="359.4" stroke="#555" stroke-width="1.0" stroke-dasharray="1,1.1"/>
<line x1="519.6" y1="84.5" x2="519.6" y2="359.4" stroke="#555" stroke-width="1.0" stroke-dasharray="1,1.1"/>
<line x1="563.9" y1="84.5" x2="563.9" y2="359.4" stroke="#555" stroke-width="1.0" stroke-dasharray="1,1.1"/>
<line x1="319" y1="359.5" x2="608.6" y2="359.5" stroke="#222" stroke-width="0.9" />
<line x1="328.5" y1="359.4" x2="328.5" y2="361.6" stroke="#222" stroke-width="0.8" />
<line x1="351.5" y1="359.4" x2="351.5" y2="361.6" stroke="#222" stroke-width="0.8" />
<line x1="373.5" y1="359.4" x2="373.5" y2="361.6" stroke="#222" stroke-width="0.8" />
<line x1="396.5" y1="359.4" x2="396.5" y2="361.6" stroke="#222" stroke-width="0.8" />
<line x1="418.5" y1="359.4" x2="418.5" y2="361.6" stroke="#222" stroke-width="0.8" />
<line x1="441.5" y1="359.4" x2="441.5" y2="361.6" stroke="#222" stroke-width="0.8" />
<line x1="464.5" y1="359.4" x2="464.5" y2="361.6" stroke="#222" stroke-width="0.8" />
<line x1="486.5" y1="359.4" x2="486.5" y2="361.6" stroke="#222" stroke-width="0.8" />
<line x1="509.5" y1="359.4" x2="509.5" y2="361.6" stroke="#222" stroke-width="0.8" />
<line x1="531.5" y1="359.4" x2="531.5" y2="361.6" stroke="#222" stroke-width="0.8" />
<line x1="554.5" y1="359.4" x2="554.5" y2="361.6" stroke="#222" stroke-width="0.8" />
<line x1="576.5" y1="359.4" x2="576.5" y2="361.6" stroke="#222" stroke-width="0.8" />
<line x1="599.5" y1="359.4" x2="599.5" y2="361.6" stroke="#222" stroke-width="0.8" />
<text x="620.8" y="125.9" font-size="9.8" text-anchor="start" fill="#111" color="#111" >120</text>
<text x="620.4" y="231.9" font-size="9.8" text-anchor="start" fill="#111" color="#111" >210</text>
<text x="620.4" y="304.1" font-size="9.8" text-anchor="start" fill="#111" color="#111" >340</text>
<text transform="translate(652.2,228.2) rotate(90)" font-size="10.7" text-anchor="middle" fill="#111">minutes of incubation</text>
<text transform="translate(300.4,228.3) rotate(-90)" font-size="9.85" text-anchor="middle" fill="#111">% of initial motile function</text>
<text x="328.4" y="370.6" font-size="9" text-anchor="middle" fill="#111" color="#111" >w/o</text>
<text x="351.0" y="370.6" font-size="9" text-anchor="middle" fill="#111" color="#111" >high</text>
<text x="372.4" y="370.6" font-size="9" text-anchor="middle" fill="#111" color="#111" >low</text>
<text x="396.2" y="370.6" font-size="9" text-anchor="middle" fill="#111" color="#111" >high</text>
<text x="417.6" y="370.6" font-size="9" text-anchor="middle" fill="#111" color="#111" >low</text>
<text x="441.5" y="370.6" font-size="9" text-anchor="middle" fill="#111" color="#111" >high</text>
<text x="463.0" y="370.6" font-size="9" text-anchor="middle" fill="#111" color="#111" >low</text>
<text x="486.6" y="370.6" font-size="9" text-anchor="middle" fill="#111" color="#111" >high</text>
<text x="508.0" y="370.6" font-size="9" text-anchor="middle" fill="#111" color="#111" >low</text>
<text x="531.7" y="370.6" font-size="9" text-anchor="middle" fill="#111" color="#111" >high</text>
<text x="553.0" y="370.6" font-size="9" text-anchor="middle" fill="#111" color="#111" >low</text>
<text x="576.6" y="370.6" font-size="9" text-anchor="middle" fill="#111" color="#111" >high</text>
<text x="598.4" y="370.6" font-size="9" text-anchor="middle" fill="#111" color="#111" >low</text>
<line x1="344.0" y1="378.5" x2="375.79999999999995" y2="378.5" stroke="#222" stroke-width="0.9" />
<text x="362.2" y="387.4" font-size="9" text-anchor="middle" fill="#111" color="#111" >F1</text>
<line x1="389.2" y1="378.5" x2="421.0" y2="378.5" stroke="#222" stroke-width="0.9" />
<text x="407.4" y="387.4" font-size="9" text-anchor="middle" fill="#111" color="#111" >F2</text>
<line x1="434.5" y1="378.5" x2="466.4" y2="378.5" stroke="#222" stroke-width="0.9" />
<text x="452.75" y="387.4" font-size="9" text-anchor="middle" fill="#111" color="#111" >F3</text>
<line x1="479.6" y1="378.5" x2="511.4" y2="378.5" stroke="#222" stroke-width="0.9" />
<text x="497.8" y="387.4" font-size="9" text-anchor="middle" fill="#111" color="#111" >F4</text>
<line x1="524.7" y1="378.5" x2="556.4" y2="378.5" stroke="#222" stroke-width="0.9" />
<text x="542.85" y="387.4" font-size="9" text-anchor="middle" fill="#111" color="#111" >F5</text>
<line x1="569.6" y1="378.5" x2="601.8" y2="378.5" stroke="#222" stroke-width="0.9" />
<text x="588.0" y="387.4" font-size="9" text-anchor="middle" fill="#111" color="#111" >F6</text>
<line x1="328.5" y1="116.4" x2="328.5" y2="126" stroke="#3d5cff" stroke-width="0.8" />
<line x1="325.8" y1="116.5" x2="331.2" y2="116.5" stroke="#1f3dff" stroke-width="0.9" />
<line x1="325.8" y1="126.5" x2="331.2" y2="126.5" stroke="#1f3dff" stroke-width="0.9" />
<circle cx="328.5" cy="121.4" r="2.55" fill="#1f3dff"/>
<line x1="351.5" y1="131.4" x2="351.5" y2="168.4" stroke="#ff6a58" stroke-width="0.8" />
<line x1="348.8" y1="131.5" x2="354.2" y2="131.5" stroke="#ff4a36" stroke-width="0.9" />
<line x1="348.8" y1="168.5" x2="354.2" y2="168.5" stroke="#ff4a36" stroke-width="0.9" />
<circle cx="351.5" cy="149.6" r="2.55" fill="#ff2a14"/>
<line x1="373.5" y1="103.4" x2="373.5" y2="122.4" stroke="#444" stroke-width="0.8" />
<line x1="370.8" y1="103.5" x2="376.2" y2="103.5" stroke="#222" stroke-width="0.9" />
<line x1="370.8" y1="122.5" x2="376.2" y2="122.5" stroke="#222" stroke-width="0.9" />
<circle cx="373.5" cy="113" r="2.55" fill="#111"/>
<line x1="396.5" y1="134.1" x2="396.5" y2="165.1" stroke="#ff6a58" stroke-width="0.8" />
<line x1="393.8" y1="134.5" x2="399.2" y2="134.5" stroke="#ff4a36" stroke-width="0.9" />
<line x1="393.8" y1="165.5" x2="399.2" y2="165.5" stroke="#ff4a36" stroke-width="0.9" />
<circle cx="396.5" cy="150.1" r="2.55" fill="#ff2a14"/>
<line x1="418.5" y1="89.8" x2="418.5" y2="114.1" stroke="#444" stroke-width="0.8" />
<line x1="415.8" y1="89.5" x2="421.2" y2="89.5" stroke="#222" stroke-width="0.9" />
<line x1="415.8" y1="114.5" x2="421.2" y2="114.5" stroke="#222" stroke-width="0.9" />
<circle cx="418.5" cy="102" r="2.55" fill="#111"/>
<line x1="441.5" y1="150.4" x2="441.5" y2="162.8" stroke="#ff6a58" stroke-width="0.8" />
<line x1="438.8" y1="150.5" x2="444.2" y2="150.5" stroke="#ff4a36" stroke-width="0.9" />
<line x1="438.8" y1="162.5" x2="444.2" y2="162.5" stroke="#ff4a36" stroke-width="0.9" />
<circle cx="441.5" cy="156.8" r="2.55" fill="#ff2a14"/>
<line x1="464.5" y1="107.2" x2="464.5" y2="137" stroke="#444" stroke-width="0.8" />
<line x1="461.8" y1="107.5" x2="467.2" y2="107.5" stroke="#222" stroke-width="0.9" />
<line x1="461.8" y1="137.5" x2="467.2" y2="137.5" stroke="#222" stroke-width="0.9" />
<circle cx="464.5" cy="122.2" r="2.55" fill="#111"/>
<line x1="486.5" y1="140.1" x2="486.5" y2="164" stroke="#ff6a58" stroke-width="0.8" />
<line x1="483.8" y1="140.5" x2="489.2" y2="140.5" stroke="#ff4a36" stroke-width="0.9" />
<line x1="483.8" y1="164.5" x2="489.2" y2="164.5" stroke="#ff4a36" stroke-width="0.9" />
<circle cx="486.5" cy="152" r="2.55" fill="#ff2a14"/>
<line x1="509.5" y1="116" x2="509.5" y2="141.5" stroke="#444" stroke-width="0.8" />
<line x1="506.8" y1="116.5" x2="512.2" y2="116.5" stroke="#222" stroke-width="0.9" />
<line x1="506.8" y1="141.5" x2="512.2" y2="141.5" stroke="#222" stroke-width="0.9" />
<circle cx="509.5" cy="128.9" r="2.55" fill="#111"/>
<line x1="531.5" y1="148.3" x2="531.5" y2="174" stroke="#ff6a58" stroke-width="0.8" />
<line x1="528.8" y1="148.5" x2="534.2" y2="148.5" stroke="#ff4a36" stroke-width="0.9" />
<line x1="528.8" y1="174.5" x2="534.2" y2="174.5" stroke="#ff4a36" stroke-width="0.9" />
<circle cx="531.5" cy="161" r="2.55" fill="#ff2a14"/>
<line x1="554.5" y1="97" x2="554.5" y2="139" stroke="#444" stroke-width="0.8" />
<line x1="551.8" y1="97.5" x2="557.2" y2="97.5" stroke="#222" stroke-width="0.9" />
<line x1="551.8" y1="139.5" x2="557.2" y2="139.5" stroke="#222" stroke-width="0.9" />
<circle cx="554.5" cy="118" r="2.55" fill="#111"/>
<line x1="576.5" y1="87.4" x2="576.5" y2="119.2" stroke="#ff6a58" stroke-width="0.8" />
<line x1="573.8" y1="87.5" x2="579.2" y2="87.5" stroke="#ff4a36" stroke-width="0.9" />
<line x1="573.8" y1="119.5" x2="579.2" y2="119.5" stroke="#ff4a36" stroke-width="0.9" />
<circle cx="576.5" cy="103.6" r="2.55" fill="#ff2a14"/>
<line x1="599.5" y1="106.5" x2="599.5" y2="141.3" stroke="#444" stroke-width="0.8" />
<line x1="596.8" y1="106.5" x2="602.2" y2="106.5" stroke="#222" stroke-width="0.9" />
<line x1="596.8" y1="141.5" x2="602.2" y2="141.5" stroke="#222" stroke-width="0.9" />
<circle cx="599.5" cy="124" r="2.55" fill="#111"/>
<line x1="328.5" y1="221" x2="328.5" y2="235" stroke="#3d5cff" stroke-width="0.8" />
<line x1="325.8" y1="221.5" x2="331.2" y2="221.5" stroke="#1f3dff" stroke-width="0.9" />
<line x1="325.8" y1="235.5" x2="331.2" y2="235.5" stroke="#1f3dff" stroke-width="0.9" />
<circle cx="328.5" cy="228" r="2.55" fill="#1f3dff"/>
<line x1="351.5" y1="214.4" x2="351.5" y2="232.6" stroke="#ff6a58" stroke-width="0.8" />
<line x1="348.8" y1="214.5" x2="354.2" y2="214.5" stroke="#ff4a36" stroke-width="0.9" />
<line x1="348.8" y1="232.5" x2="354.2" y2="232.5" stroke="#ff4a36" stroke-width="0.9" />
<circle cx="351.5" cy="224" r="2.55" fill="#ff2a14"/>
<circle cx="373.5" cy="240" r="2.55" fill="#111"/>
<line x1="396.5" y1="244.4" x2="396.5" y2="260.1" stroke="#ff6a58" stroke-width="0.8" />
<line x1="393.8" y1="244.5" x2="399.2" y2="244.5" stroke="#ff4a36" stroke-width="0.9" />
<line x1="393.8" y1="260.5" x2="399.2" y2="260.5" stroke="#ff4a36" stroke-width="0.9" />
<circle cx="396.5" cy="252.5" r="2.55" fill="#ff2a14"/>
<line x1="418.5" y1="224.6" x2="418.5" y2="238" stroke="#444" stroke-width="0.8" />
<line x1="415.8" y1="224.5" x2="421.2" y2="224.5" stroke="#222" stroke-width="0.9" />
<line x1="415.8" y1="238.5" x2="421.2" y2="238.5" stroke="#222" stroke-width="0.9" />
<circle cx="418.5" cy="231.5" r="2.55" fill="#111"/>
<line x1="441.5" y1="247.7" x2="441.5" y2="256.3" stroke="#ff6a58" stroke-width="0.8" />
<line x1="438.8" y1="247.5" x2="444.2" y2="247.5" stroke="#ff4a36" stroke-width="0.9" />
<line x1="438.8" y1="256.5" x2="444.2" y2="256.5" stroke="#ff4a36" stroke-width="0.9" />
<circle cx="441.5" cy="252" r="2.55" fill="#ff2a14"/>
<line x1="464.5" y1="232.5" x2="464.5" y2="244.2" stroke="#444" stroke-width="0.8" />
<line x1="461.8" y1="232.5" x2="467.2" y2="232.5" stroke="#222" stroke-width="0.9" />
<line x1="461.8" y1="244.5" x2="467.2" y2="244.5" stroke="#222" stroke-width="0.9" />
<circle cx="464.5" cy="238.4" r="2.55" fill="#111"/>
<line x1="486.5" y1="243.4" x2="486.5" y2="266.1" stroke="#ff6a58" stroke-width="0.8" />
<line x1="483.8" y1="243.5" x2="489.2" y2="243.5" stroke="#ff4a36" stroke-width="0.9" />
<line x1="483.8" y1="266.5" x2="489.2" y2="266.5" stroke="#ff4a36" stroke-width="0.9" />
<circle cx="486.5" cy="254.9" r="2.55" fill="#ff2a14"/>
<line x1="509.5" y1="232.5" x2="509.5" y2="249.6" stroke="#444" stroke-width="0.8" />
<line x1="506.8" y1="232.5" x2="512.2" y2="232.5" stroke="#222" stroke-width="0.9" />
<line x1="506.8" y1="249.5" x2="512.2" y2="249.5" stroke="#222" stroke-width="0.9" />
<circle cx="509.5" cy="241.3" r="2.55" fill="#111"/>
<line x1="531.5" y1="249" x2="531.5" y2="266" stroke="#ff6a58" stroke-width="0.8" />
<line x1="528.8" y1="249.5" x2="534.2" y2="249.5" stroke="#ff4a36" stroke-width="0.9" />
<line x1="528.8" y1="266.5" x2="534.2" y2="266.5" stroke="#ff4a36" stroke-width="0.9" />
<circle cx="531.5" cy="259" r="2.55" fill="#ff2a14"/>
<line x1="554.5" y1="209" x2="554.5" y2="235.4" stroke="#444" stroke-width="0.8" />
<line x1="551.8" y1="209.5" x2="557.2" y2="209.5" stroke="#222" stroke-width="0.9" />
<line x1="551.8" y1="235.5" x2="557.2" y2="235.5" stroke="#222" stroke-width="0.9" />
<circle cx="554.5" cy="222" r="2.55" fill="#111"/>
<line x1="576.5" y1="223.4" x2="576.5" y2="238" stroke="#ff6a58" stroke-width="0.8" />
<line x1="573.8" y1="223.5" x2="579.2" y2="223.5" stroke="#ff4a36" stroke-width="0.9" />
<line x1="573.8" y1="238.5" x2="579.2" y2="238.5" stroke="#ff4a36" stroke-width="0.9" />
<circle cx="576.5" cy="231" r="2.55" fill="#ff2a14"/>
<line x1="599.5" y1="209" x2="599.5" y2="225.4" stroke="#444" stroke-width="0.8" />
<line x1="596.8" y1="209.5" x2="602.2" y2="209.5" stroke="#222" stroke-width="0.9" />
<line x1="596.8" y1="225.5" x2="602.2" y2="225.5" stroke="#222" stroke-width="0.9" />
<circle cx="599.5" cy="217.6" r="2.55" fill="#111"/>
<line x1="328.5" y1="294.4" x2="328.5" y2="305.4" stroke="#3d5cff" stroke-width="0.8" />
<line x1="325.8" y1="294.5" x2="331.2" y2="294.5" stroke="#1f3dff" stroke-width="0.9" />
<line x1="325.8" y1="305.5" x2="331.2" y2="305.5" stroke="#1f3dff" stroke-width="0.9" />
<circle cx="328.5" cy="299.6" r="2.55" fill="#1f3dff"/>
<line x1="351.5" y1="275.6" x2="351.5" y2="308" stroke="#ff6a58" stroke-width="0.8" />
<line x1="348.8" y1="275.5" x2="354.2" y2="275.5" stroke="#ff4a36" stroke-width="0.9" />
<line x1="348.8" y1="308.5" x2="354.2" y2="308.5" stroke="#ff4a36" stroke-width="0.9" />
<circle cx="351.5" cy="292" r="2.55" fill="#ff2a14"/>
<line x1="373.5" y1="301.4" x2="373.5" y2="313.6" stroke="#444" stroke-width="0.8" />
<line x1="370.8" y1="301.5" x2="376.2" y2="301.5" stroke="#222" stroke-width="0.9" />
<line x1="370.8" y1="313.5" x2="376.2" y2="313.5" stroke="#222" stroke-width="0.9" />
<circle cx="373.5" cy="307.6" r="2.55" fill="#111"/>
<line x1="396.5" y1="310.3" x2="396.5" y2="333.4" stroke="#ff6a58" stroke-width="0.8" />
<line x1="393.8" y1="310.5" x2="399.2" y2="310.5" stroke="#ff4a36" stroke-width="0.9" />
<line x1="393.8" y1="333.5" x2="399.2" y2="333.5" stroke="#ff4a36" stroke-width="0.9" />
<circle cx="396.5" cy="322.2" r="2.55" fill="#ff2a14"/>
<line x1="418.5" y1="292.4" x2="418.5" y2="316.5" stroke="#444" stroke-width="0.8" />
<line x1="415.8" y1="292.5" x2="421.2" y2="292.5" stroke="#222" stroke-width="0.9" />
<line x1="415.8" y1="316.5" x2="421.2" y2="316.5" stroke="#222" stroke-width="0.9" />
<circle cx="418.5" cy="304.4" r="2.55" fill="#111"/>
<line x1="441.5" y1="313.4" x2="441.5" y2="327.7" stroke="#ff6a58" stroke-width="0.8" />
<line x1="438.8" y1="313.5" x2="444.2" y2="313.5" stroke="#ff4a36" stroke-width="0.9" />
<line x1="438.8" y1="327.5" x2="444.2" y2="327.5" stroke="#ff4a36" stroke-width="0.9" />
<circle cx="441.5" cy="320.6" r="2.55" fill="#ff2a14"/>
<line x1="464.5" y1="290.3" x2="464.5" y2="312" stroke="#444" stroke-width="0.8" />
<line x1="461.8" y1="290.5" x2="467.2" y2="290.5" stroke="#222" stroke-width="0.9" />
<line x1="461.8" y1="312.5" x2="467.2" y2="312.5" stroke="#222" stroke-width="0.9" />
<circle cx="464.5" cy="301.3" r="2.55" fill="#111"/>
<line x1="486.5" y1="298.4" x2="486.5" y2="312" stroke="#ff6a58" stroke-width="0.8" />
<line x1="483.8" y1="298.5" x2="489.2" y2="298.5" stroke="#ff4a36" stroke-width="0.9" />
<line x1="483.8" y1="312.5" x2="489.2" y2="312.5" stroke="#ff4a36" stroke-width="0.9" />
<circle cx="486.5" cy="305" r="2.55" fill="#ff2a14"/>
<line x1="509.5" y1="289.1" x2="509.5" y2="328.2" stroke="#444" stroke-width="0.8" />
<line x1="506.8" y1="289.5" x2="512.2" y2="289.5" stroke="#222" stroke-width="0.9" />
<line x1="506.8" y1="328.5" x2="512.2" y2="328.5" stroke="#222" stroke-width="0.9" />
<circle cx="509.5" cy="308.6" r="2.55" fill="#111"/>
<line x1="531.5" y1="313.4" x2="531.5" y2="334.4" stroke="#ff6a58" stroke-width="0.8" />
<line x1="528.8" y1="313.5" x2="534.2" y2="313.5" stroke="#ff4a36" stroke-width="0.9" />
<line x1="528.8" y1="334.5" x2="534.2" y2="334.5" stroke="#ff4a36" stroke-width="0.9" />
<circle cx="531.5" cy="324" r="2.55" fill="#ff2a14"/>
<line x1="554.5" y1="285" x2="554.5" y2="314" stroke="#444" stroke-width="0.8" />
<line x1="551.8" y1="285.5" x2="557.2" y2="285.5" stroke="#222" stroke-width="0.9" />
<line x1="551.8" y1="314.5" x2="557.2" y2="314.5" stroke="#222" stroke-width="0.9" />
<circle cx="554.5" cy="299.6" r="2.55" fill="#111"/>
<line x1="576.5" y1="304.4" x2="576.5" y2="346.4" stroke="#ff6a58" stroke-width="0.8" />
<line x1="573.8" y1="304.5" x2="579.2" y2="304.5" stroke="#ff4a36" stroke-width="0.9" />
<line x1="573.8" y1="346.5" x2="579.2" y2="346.5" stroke="#ff4a36" stroke-width="0.9" />
<circle cx="576.5" cy="325.4" r="2.55" fill="#ff2a14"/>
<line x1="599.5" y1="307.4" x2="599.5" y2="315.6" stroke="#444" stroke-width="0.8" />
<line x1="596.8" y1="307.5" x2="602.2" y2="307.5" stroke="#222" stroke-width="0.9" />
<line x1="596.8" y1="315.5" x2="602.2" y2="315.5" stroke="#222" stroke-width="0.9" />
<circle cx="599.5" cy="311.6" r="2.55" fill="#111"/>
</svg>
</body></html>
